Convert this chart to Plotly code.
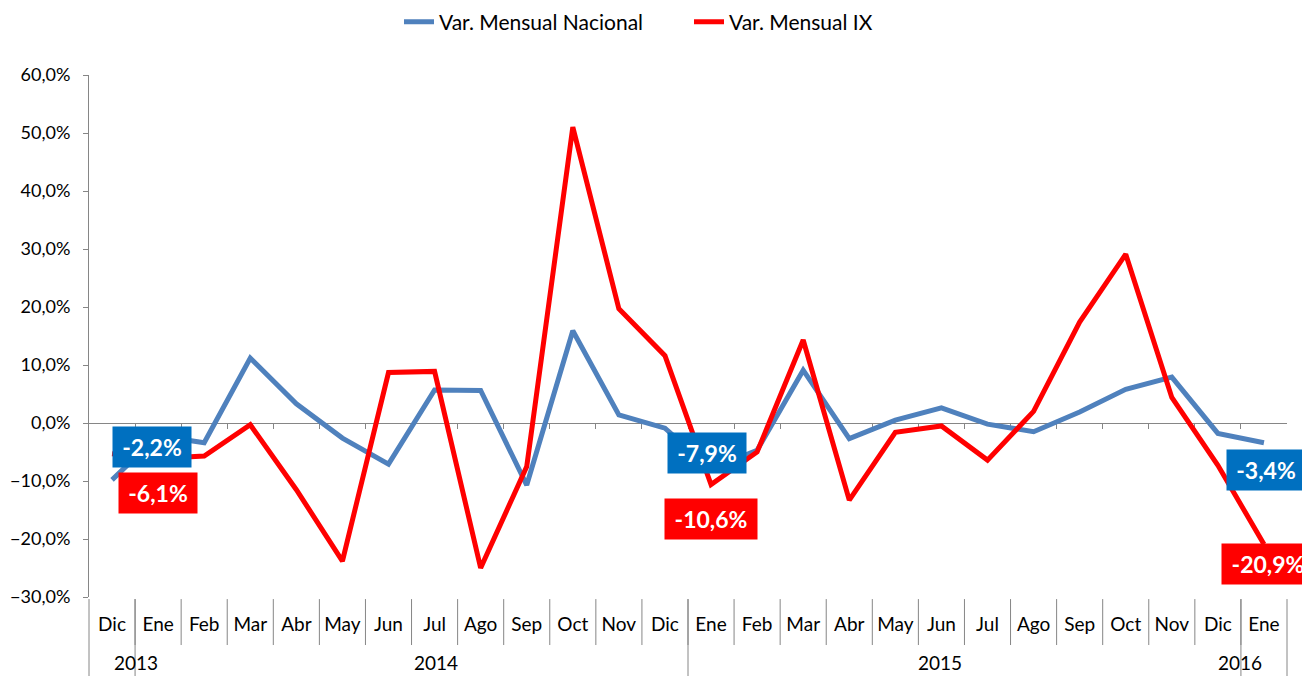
import plotly.graph_objects as go

years = ["2013"] + ["2014"] * 12 + ["2015"] * 12 + ["2016"]
months = ["Dic",
          "Ene", "Feb", "Mar", "Abr", "May", "Jun", "Jul", "Ago", "Sep", "Oct", "Nov", "Dic",
          "Ene", "Feb", "Mar", "Abr", "May", "Jun", "Jul", "Ago", "Sep", "Oct", "Nov", "Dic",
          "Ene"]
nacional = [-9.8,
            -2.2, -3.4, 11.2, 3.3, -2.6, -7.1, 5.7, 5.6, -10.7, 15.9, 1.4, -0.9,
            -7.9, -4.7, 9.1, -2.7, 0.5, 2.6, -0.2, -1.5, 1.9, 5.8, 7.9, -1.8,
            -3.4]
region_ix = [-5.3,
             -6.1, -5.7, -0.3, -11.5, -23.8, 8.7, 8.9, -25.0, -7.5, 51.0, 19.7, 11.6,
             -10.6, -5.0, 14.3, -13.3, -1.6, -0.5, -6.4, 2.0, 17.4, 29.1, 4.4, -7.3,
             -20.9]

BLUE = "#4F81BD"
RED = "#FF0000"
AXIS = "#868686"
FONT = "Lato, sans-serif"

W, H = 1302, 668
n = len(months)
idx = list(range(n))

fig = go.Figure()
fig.add_trace(go.Scatter(x=idx, y=nacional, mode="lines", name="Var. Mensual Nacional",
                         line=dict(color=BLUE, width=5)))
fig.add_trace(go.Scatter(x=idx, y=region_ix, mode="lines", name="Var. Mensual IX",
                         line=dict(color=RED, width=5)))
# helper trace to activate the zero-crossing axis
fig.add_trace(go.Scatter(x=[None], y=[None], xaxis="x2", showlegend=False, hoverinfo="skip"))

shapes = []
annotations = []

# month separators below the plot area
for i in range(n - 1):
    shapes.append(dict(type="line", xref="paper", yref="paper", x0=(i + 1) / n, x1=(i + 1) / n,
                       y0=-0.004, y1=-0.092, line=dict(color=AXIS, width=1)))

# year groups: dividers + centered labels
groups = []
start = 0
for i in range(1, n + 1):
    if i == n or years[i] != years[start]:
        groups.append((years[start], start, i))
        start = i
bounds = sorted({g[1] for g in groups} | {g[2] for g in groups})
for b in bounds:
    shapes.append(dict(type="line", xref="paper", yref="paper", x0=b / n, x1=b / n,
                       y0=-0.004, y1=-0.16, line=dict(color=AXIS, width=1)))
for name, s, e in groups:
    annotations.append(dict(x=(s + e) / 2 / n, y=-0.1264, xref="paper", yref="paper",
                            text=name, showarrow=False, yanchor="middle",
                            font=dict(family=FONT, size=19, color="black")))

# data labels for each January
label_idx = [i for i, m in enumerate(months) if m == "Ene"]
blue_shift = [(-6, -11), (-4, 16), (2, -27)]
red_shift = [(0, -35), (0, -35), (4, -20)]


def fmt(v):
    return f"{v:.1f}".replace(".", ",") + "%"


def label(i, series, shift, color):
    txt = fmt(series[i])
    return dict(x=i, y=series[i], xref="x", yref="y", text=txt,
                showarrow=False, xshift=shift[0], yshift=shift[1],
                bgcolor=color, borderpad=4, width=14 * len(txt), height=32,
                font=dict(family=FONT, size=23, color="white", weight="bold"))


for k, i in enumerate(label_idx):
    annotations.append(label(i, nacional, blue_shift[k], "#0070C0"))
    annotations.append(label(i, region_ix, red_shift[k], RED))

fig.update_layout(
    width=W, height=H,
    margin=dict(l=81, r=23, t=67, b=79),
    plot_bgcolor="white", paper_bgcolor="white",
    separators=",.",
    font=dict(family=FONT, size=19, color="black"),
    showlegend=True,
    legend=dict(orientation="h", x=0.5 + 30 / W, xanchor="center", xref="container",
                y=1 - 14 / H, yanchor="middle", yref="container",
                font=dict(size=21), bgcolor="rgba(0,0,0,0)", entrywidth=245),
    xaxis=dict(range=[-0.5, n - 0.5], tickmode="array", tickvals=idx, ticktext=months,
               showline=False, ticks="", showgrid=False, zeroline=False, automargin=False,
               ticklabelstandoff=14, tickfont=dict(size=19, color="black")),
    xaxis2=dict(overlaying="x", anchor="free", position=1 / 3, side="bottom",
                range=[-0.5, n - 0.5], tickmode="array", tickvals=[i + 0.5 for i in range(n - 1)],
                ticks="outside", ticklen=5, tickcolor=AXIS, showticklabels=False,
                showline=True, linecolor=AXIS, linewidth=1, showgrid=False, zeroline=False,
                layer="below traces", automargin=False),
    yaxis=dict(range=[-30, 60], dtick=10, tick0=0, tickformat=".1f", ticksuffix="%",
               showline=True, linecolor=AXIS, linewidth=1, ticks="outside", ticklen=5,
               tickcolor=AXIS, showgrid=False, zeroline=False, ticklabelstandoff=9,
               automargin=False, tickfont=dict(size=18, color="black")),
    shapes=shapes,
    annotations=annotations,
)

fig.write_html("out.html")
